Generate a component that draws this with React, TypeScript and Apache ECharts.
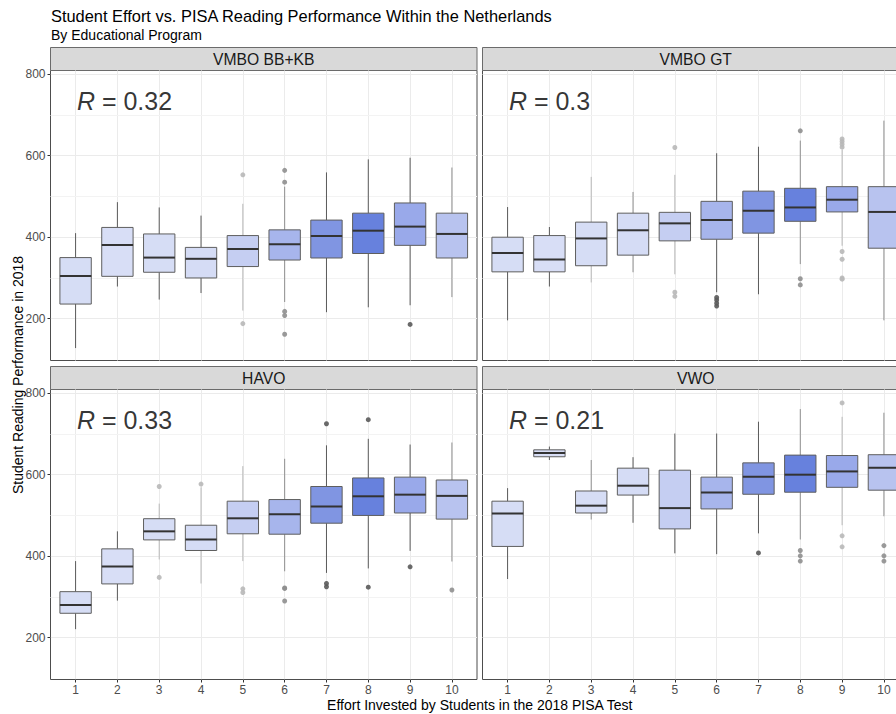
import React, { useEffect, useRef } from "react";
import * as echarts from "echarts";

// Effort levels (x categories) and facet programs
const effortLevels = ["1", "2", "3", "4", "5", "6", "7", "8", "9", "10"];
const programs = ["VMBO BB+KB", "VMBO GT", "HAVO", "VWO"];
const correlations = ["0.32", "0.3", "0.33", "0.21"];
const yTickValues = [200, 400, 600, 800];
const yMinorValues = [300, 500, 700];

// Five-number summaries per effort level: [lower whisker, Q1, median, Q3, upper whisker]
const vmboBbKbBoxes = [
  [128, 236, 305, 350, 410],
  [279, 304, 381, 424, 486],
  [247, 314, 350, 408, 473],
  [263, 300, 347, 375, 453],
  [220, 328, 371, 404, 482],
  [241, 344, 383, 418, 524],
  [216, 349, 403, 442, 559],
  [228, 360, 416, 459, 591],
  [233, 380, 426, 484, 595],
  [253, 349, 408, 459, 571],
];
const vmboGtBoxes = [
  [196, 315, 361, 400, 474],
  [279, 315, 345, 404, 425],
  [289, 330, 397, 437, 548],
  [314, 356, 417, 459, 511],
  [309, 391, 434, 461, 553],
  [265, 395, 442, 488, 606],
  [260, 410, 465, 513, 622],
  [334, 439, 473, 520, 637],
  [379, 462, 492, 524, 614],
  [196, 373, 462, 524, 686],
];
const havoBoxes = [
  [221, 260, 280, 313, 388],
  [291, 332, 375, 418, 461],
  [392, 440, 461, 492, 529],
  [333, 414, 441, 476, 569],
  [388, 455, 493, 535, 621],
  [363, 454, 503, 539, 639],
  [359, 481, 522, 571, 672],
  [370, 500, 547, 592, 688],
  [413, 506, 551, 594, 674],
  [387, 491, 548, 587, 679],
];
const vwoBoxes = [
  [344, 424, 505, 535, 567],
  [636, 644, 653, 661, 669],
  [490, 506, 524, 560, 636],
  [482, 550, 573, 616, 643],
  [407, 467, 518, 611, 701],
  [405, 516, 556, 594, 701],
  [456, 552, 595, 629, 730],
  [441, 557, 600, 648, 761],
  [476, 569, 608, 647, 742],
  [498, 562, 617, 649, 752],
];

// Outliers: [effort level, score]
const vmboBbKbOutliers = [
  [5, 553], [5, 188], [6, 564], [6, 535], [6, 218], [6, 208], [6, 162], [9, 186],
];
const vmboGtOutliers = [
  [5, 620], [5, 265], [5, 255], [6, 252], [6, 246], [6, 238], [6, 231],
  [8, 661], [8, 298], [8, 283],
  [9, 641], [9, 635], [9, 628], [9, 621], [9, 365], [9, 346], [9, 300], [9, 297],
];
const havoOutliers = [
  [3, 571], [3, 348], [4, 577], [5, 320], [5, 311], [6, 322], [6, 321], [6, 290],
  [7, 725], [7, 333], [7, 325], [8, 735], [8, 324], [9, 374], [10, 317],
];
const vwoOutliers = [
  [7, 408], [8, 414], [8, 401], [8, 388], [9, 776], [9, 450], [9, 423],
  [10, 426], [10, 401], [10, 388],
];

const panelBoxes = [vmboBbKbBoxes, vmboGtBoxes, havoBoxes, vwoBoxes];
const panelOutliers = [vmboBbKbOutliers, vmboGtOutliers, havoOutliers, vwoOutliers];

// ---- styling ----
const FONT = "'Liberation Sans', Arial, Helvetica, sans-serif";
const boxFills = [
  "#d6ddf5", "#d8def6", "#d6ddf5", "#d5dcf5", "#c5cef2",
  "#a7b5ec", "#8095e2", "#6781dd", "#99a9ea", "#b8c3ef",
];
const D = "#5a5a5a";
const M = "#8f8f8f";
const L = "#b8b8b8";
const whiskerShades = [
  [D, D, D, D, L, M, D, D, D, M],
  [D, D, L, M, L, D, D, M, L, M],
  [D, D, L, L, L, M, D, D, D, M],
  [D, D, M, D, D, D, D, M, L, M],
];

const CHART_W = 915;
const CHART_H = 714;
const PANEL_LEFT = [50.5, 482.5];
const PANEL_TOP = [70.5, 389.5];
const PANEL_W = 426.5;
const PANEL_H = 290;
const STRIP_H = 23;
const Y_MIN = 97.5;
const Y_MAX = 809;
const X_MIN = 0.4;
const X_MAX = 10.6;
const BOX_WIDTH = 0.75;
const R_LABEL_POS = [1.02, 733];

function buildOption() {
  const grid: any[] = [];
  const xAxis: any[] = [];
  const yAxis: any[] = [];
  const series: any[] = [];
  const graphic: any[] = [];
  const xValues = effortLevels.map((_, i) => i + 1);

  programs.forEach((name, p) => {
    const col = p % 2;
    const row = Math.floor(p / 2);
    const left = PANEL_LEFT[col];
    const top = PANEL_TOP[row];

    grid.push({
      left,
      top,
      width: PANEL_W,
      height: PANEL_H,
      show: true,
      borderColor: "#4d4d4d",
      borderWidth: 1,
      backgroundColor: "transparent",
      containLabel: false,
    });

    xAxis.push({
      gridIndex: p,
      type: "value",
      min: X_MIN,
      max: X_MAX,
      splitNumber: 10,
      axisLine: { show: false },
      axisTick: {
        show: row === 1,
        length: 3,
        lineStyle: { color: "#333333" },
        customValues: xValues,
      },
      axisLabel: {
        show: row === 1,
        customValues: xValues,
        formatter: (v: number) => effortLevels[Math.round(v) - 1] ?? "",
        color: "#4d4d4d",
        fontSize: 12,
        fontFamily: FONT,
        margin: 4,
      },
      splitLine: { show: true, lineStyle: { color: "#ebebeb", width: 1 } },
    });

    yAxis.push({
      gridIndex: p,
      type: "value",
      min: Y_MIN,
      max: Y_MAX,
      splitNumber: 4,
      axisLine: { show: false },
      axisTick: {
        show: col === 0,
        length: 3,
        lineStyle: { color: "#333333" },
        customValues: yTickValues,
      },
      axisLabel: {
        show: col === 0,
        customValues: yTickValues,
        color: "#4d4d4d",
        fontSize: 12,
        fontFamily: FONT,
        margin: 5,
      },
      splitLine: { show: true, lineStyle: { color: "#ebebeb", width: 1 } },
    });

    const shades = whiskerShades[p];

    // boxes, whiskers and medians
    series.push({
      type: "custom",
      xAxisIndex: p,
      yAxisIndex: p,
      z: 3,
      silent: true,
      data: panelBoxes[p].map((s, i) => [i + 1, ...s]),
      renderItem: (_params: any, api: any) => {
        const x = api.value(0);
        const lo = api.coord([x, api.value(1)]);
        const q1 = api.coord([x, api.value(2)]);
        const med = api.coord([x, api.value(3)]);
        const q3 = api.coord([x, api.value(4)]);
        const hi = api.coord([x, api.value(5)]);
        const half = api.size([BOX_WIDTH, 0])[0] / 2;
        const idx = Math.round(x) - 1;
        const cx = lo[0];
        const wStyle = { stroke: shades[idx], lineWidth: 1 };
        return {
          type: "group",
          children: [
            { type: "line", shape: { x1: cx, y1: hi[1], x2: cx, y2: q3[1] }, style: wStyle },
            { type: "line", shape: { x1: cx, y1: q1[1], x2: cx, y2: lo[1] }, style: wStyle },
            {
              type: "rect",
              shape: { x: cx - half, y: q3[1], width: half * 2, height: q1[1] - q3[1] },
              style: { fill: boxFills[idx], stroke: "#5e5e5e", lineWidth: 1 },
            },
            {
              type: "line",
              shape: { x1: cx - half, y1: med[1], x2: cx + half, y2: med[1] },
              style: { stroke: "#333333", lineWidth: 2 },
            },
          ],
        };
      },
      markLine: {
        z: 1,
        silent: true,
        symbol: "none",
        label: { show: false },
        lineStyle: { color: "#f3f3f3", width: 1, type: "solid" },
        data: yMinorValues.map((v) => ({ yAxis: v })),
      },
    });

    // outlying points
    series.push({
      type: "scatter",
      xAxisIndex: p,
      yAxisIndex: p,
      z: 4,
      silent: true,
      symbolSize: 5,
      data: panelOutliers[p],
      itemStyle: {
        color: (params: any) => shades[params.value[0] - 1],
        opacity: 0.9,
      },
    });

    // correlation annotation
    series.push({
      type: "scatter",
      xAxisIndex: p,
      yAxisIndex: p,
      z: 5,
      silent: true,
      symbolSize: 1,
      itemStyle: { color: "rgba(0,0,0,0)" },
      data: [R_LABEL_POS],
      label: {
        show: true,
        position: "right",
        distance: 0,
        formatter: `{it|R}{n| = ${correlations[p]}}`,
        rich: {
          it: { fontStyle: "italic", fontSize: 25, fontFamily: FONT, color: "#000000" },
          n: { fontSize: 25, fontFamily: FONT, color: "#000000" },
        },
      },
    });

    // facet strip
    graphic.push({
      type: "group",
      children: [
        {
          type: "rect",
          shape: { x: left, y: top - STRIP_H, width: PANEL_W, height: STRIP_H },
          style: { fill: "#d9d9d9", stroke: "#6b6b6b", lineWidth: 1 },
        },
        {
          type: "text",
          x: left + PANEL_W / 2,
          y: top - STRIP_H / 2,
          style: {
            text: name,
            fill: "#1a1a1a",
            fontSize: 15.7,
            fontFamily: FONT,
            align: "center",
            verticalAlign: "middle",
          },
        },
      ],
    });
  });

  graphic.push(
    {
      type: "text",
      x: 51,
      y: 16,
      style: {
        text: "Student Effort vs. PISA Reading Performance Within the Netherlands",
        fill: "#000000",
        fontSize: 16.4,
        fontFamily: FONT,
        align: "left",
        verticalAlign: "middle",
      },
    },
    {
      type: "text",
      x: 51,
      y: 35,
      style: {
        text: "By Educational Program",
        fill: "#000000",
        fontSize: 14,
        fontFamily: FONT,
        align: "left",
        verticalAlign: "middle",
      },
    },
    {
      type: "text",
      x: (PANEL_LEFT[0] + PANEL_LEFT[1] + PANEL_W) / 2,
      y: 705,
      style: {
        text: "Effort Invested by Students in the 2018 PISA Test",
        fill: "#000000",
        fontSize: 14,
        fontFamily: FONT,
        align: "center",
        verticalAlign: "middle",
      },
    },
    {
      type: "text",
      x: 18,
      y: (PANEL_TOP[0] + PANEL_TOP[1] + PANEL_H) / 2,
      rotation: Math.PI / 2,
      style: {
        text: "Student Reading Performance in 2018",
        fill: "#000000",
        fontSize: 14,
        fontFamily: FONT,
        align: "center",
        verticalAlign: "middle",
      },
    }
  );

  return {
    animation: false,
    backgroundColor: "#ffffff",
    grid,
    xAxis,
    yAxis,
    series,
    graphic,
  };
}

export default function App() {
  const ref = useRef<HTMLDivElement>(null);

  useEffect(() => {
    if (!ref.current) return;
    const chart = echarts.init(ref.current, undefined, { renderer: "svg" });
    chart.setOption(buildOption() as any);
    return () => chart.dispose();
  }, []);

  return (
    <div
      style={{
        position: "fixed",
        left: 0,
        top: 0,
        width: 896,
        height: 714,
        overflow: "hidden",
        background: "#ffffff",
      }}
    >
      <div ref={ref} style={{ width: CHART_W, height: CHART_H }} />
    </div>
  );
}
